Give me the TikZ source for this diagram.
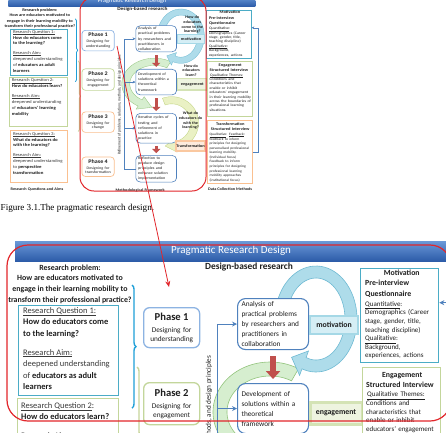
\documentclass[tikz,border=0pt]{standalone}
\usepackage{fontspec}
\setmainfont{Carlito}
\newfontfamily\capfont{Liberation Serif}
\usetikzlibrary{calc,arrows.meta,decorations.pathreplacing}

\definecolor{txt}{HTML}{1E1E1E}
\definecolor{txtg}{HTML}{3A3A3A}
\definecolor{hdrTop}{HTML}{6A98D8}
\definecolor{hdrBot}{HTML}{2C5BA8}
\definecolor{cRQa}{HTML}{4BACC6}
\definecolor{cRQb}{HTML}{C3D69B}
\definecolor{cRQc}{HTML}{FAC090}
\definecolor{cPha}{HTML}{8DB3E2}
\definecolor{cBox}{HTML}{4F81BD}
\definecolor{cRed}{HTML}{C0504D}
\definecolor{arcB}{HTML}{AEDCEA}
\definecolor{arcBd}{HTML}{6FBAD3}
\definecolor{arcG}{HTML}{D6EECF}
\definecolor{arcGd}{HTML}{93C47D}
\definecolor{arcY}{HTML}{EAF1C4}
\definecolor{arcYd}{HTML}{BFD27E}
\definecolor{labM}{HTML}{D5EEF5}
\definecolor{labMd}{HTML}{A5D8E6}
\definecolor{labE}{HTML}{EEF4E0}
\definecolor{labEd}{HTML}{D4E3B5}
\definecolor{labT}{HTML}{FDEBDD}
\definecolor{labTd}{HTML}{FAC8A0}
\definecolor{annRed}{HTML}{E2262B}
\definecolor{braceB}{HTML}{1E9FD8}
\definecolor{braceG}{HTML}{C7D59A}

\newcommand\fsz[2]{\fontsize{#1}{#2}\selectfont}
\newif\ifthumbq

\tikzset{
  every node/.style={text=txt},
  rqbox/.style={draw=#1, line width=1.3pt, fill=white, anchor=north west, inner sep=0pt, minimum width=100pt},
  rqtxt/.style={anchor=north west, align=left, inner sep=0pt, font=\fsz{8.5}{11.5}},
  phase/.style={draw=#1, line width=1.3pt, rounded corners=6pt, fill=white, minimum width=56pt,
                text width=54pt, anchor=north west, align=center, inner sep=0pt, font=\fsz{7.3}{8.8}},
  fbox/.style={draw=cBox, line width=1.1pt, rounded corners=8pt, fill=white, minimum width=71pt,
               text width=63pt, anchor=north west, align=left, inner xsep=4pt, inner ysep=0pt, font=\fsz{7.3}{10}},
  labm/.style={draw=labMd, fill=labM, line width=1.5pt, minimum width=48pt, minimum height=18pt, inner sep=0pt, font=\fsz{7.8}{9}\bfseries},
  labe/.style={draw=labEd, fill=labE, line width=3pt, minimum width=52pt, minimum height=22pt, inner sep=0pt, font=\fsz{7.8}{9}\bfseries},
  labt/.style={draw=labTd, fill=labT, line width=3pt, minimum width=50pt, minimum height=20pt, inner sep=0pt, font=\fsz{7.8}{9}\bfseries},
  dbox/.style={draw=#1, line width=1.3pt, fill=white, anchor=north west, inner sep=0pt, minimum width=78pt},
  dtxt/.style={anchor=north west, align=left, inner sep=0pt, text width=73pt, font=\fsz{7}{8.6}},
  sect/.style={font=\fsz{7.5}{9}\bfseries, inner sep=0pt},
  qtxt/.style={font=\fsz{7.5}{9}\bfseries, align=center, inner sep=0pt},
  bracestyle/.style={draw=#1, line width=1.4pt, decorate, decoration={brace, amplitude=4pt}},
  fb/.style={draw=cBox, line width=0.9pt},
  fbarrow/.style={fb, -{Stealth[length=5pt,width=5pt]}},
  redarr/.style={draw=cRed, line width=5.5pt, -{Triangle[width=14pt,length=8pt]}},
}

% circular band arrow: cx, cy, rx, ry, half band, start, band end, tip angle, style
\newcommand\circarr[9]{%
  \pgfmathsetmacro\cao{#3+#5}\pgfmathsetmacro\cbo{#4+#5}%
  \pgfmathsetmacro\cai{#3-#5}\pgfmathsetmacro\cbi{#4-#5}%
  \pgfmathsetmacro\cah{#3+#5+7}\pgfmathsetmacro\cbh{#4+#5+7}%
  \pgfmathsetmacro\caj{#3-#5-7}\pgfmathsetmacro\cbj{#4-#5-7}%
  \pgfmathsetmacro\cat{#3+3}\pgfmathsetmacro\cbt{#4+3}%
  \filldraw[#9] plot[variable=\t, domain=#6:#7, samples=60] ({#1+\cao*cos(\t)},{#2+\cbo*sin(\t)})
    -- ({#1+\cah*cos(#7)},{#2+\cbh*sin(#7)})
    -- ({#1+\cat*cos(#8)},{#2+\cbt*sin(#8)})
    -- ({#1+\caj*cos(#7)},{#2+\cbj*sin(#7)})
    -- plot[variable=\t, domain=#7:#6, samples=60] ({#1+\cai*cos(\t)},{#2+\cbi*sin(\t)})
    -- cycle;}

\newcommand\phtxt[2]{{\fsz{10.6}{12}\bfseries Phase #1}\\[3pt]Designing for\\#2}

\newcommand\drawdiagram{%
  % circular arrows
  \circarr{300}{488}{40}{44}{7}{250}{440}{105}{fill=arcY, draw=arcYd, line width=0.6pt}
  \circarr{270}{412}{50}{43}{7}{300}{120}{95}{fill=arcG, draw=arcGd, line width=0.6pt}
  \circarr{316}{319}{35}{47}{6}{185}{470}{130}{fill=arcB, draw=arcBd, line width=0.6pt}
  % header
  \node[anchor=north west, minimum width=431pt, minimum height=20pt, inner sep=0pt,
        top color=hdrTop, bottom color=hdrBot] (hdr) at (15,241) {};
  \node[text=white, font=\fsz{11}{13}] (title) at (231,251) {Pragmatic Research Design};
  % left column
  \node[font=\fsz{7.9}{10.7}\bfseries, align=center, inner sep=0pt] (rp) at (70,284)
    {Research problem:\\How are educators motivated to\\engage in their learning mobility to\\transform their professional practice?};
  \node[rqbox=cRQa, minimum height=90pt] (rq1) at (18,305) {};
  \node[rqtxt] (rq1t) at (23,307) {\textcolor{txtg}{\underline{Research Question 1:}}\\
    \textbf{How do educators come}\\\textbf{to the learning?}\\[7.5pt]
    \textcolor{txtg}{\underline{Research Aim:}}\\\textcolor{txtg}{deepened understanding}\\
    \textcolor{txtg}{of} \textbf{educators as adult}\\\textbf{learners}};
  \node[rqbox=cRQb, minimum width=101pt, minimum height=97pt] (rq2) at (17,398) {};
  \node[rqtxt] (rq2t) at (21,402) {\textcolor{txtg}{\underline{Research Question 2}}:\\
    \textbf{How do educators learn?}\\[7.5pt]
    \textcolor{txtg}{\underline{Research Aim:}}\\\textcolor{txtg}{deepened understanding}\\
    \textcolor{txtg}{of} \textbf{educators' learning}\\\textbf{mobility}};
  \node[rqbox=cRQc, minimum height=101pt] (rq3) at (18,502) {};
  \node[rqtxt] (rq3t) at (23,506) {\textcolor{txtg}{\underline{Research Question 3:}}\\
    \textbf{What do educators do}\\\textbf{with the learning?}\\[7.5pt]
    \textcolor{txtg}{\underline{Research Aim:}}\\\textcolor{txtg}{deepened understanding}\\
    \textcolor{txtg}{to} \textbf{perspective}\\\textbf{transformation}};
  \node[sect] (lrq) at (65,617) {Research Questions and Aims};
  \coordinate (bra1) at (132,285); \coordinate (bra2) at (132,408);
  \coordinate (brb1) at (137,367); \coordinate (brb2) at (137,505);
  \draw[bracestyle=braceB] (bra1) -- (bra2);
  \draw[bracestyle=braceG] (brb1) -- (brb2);
  % middle column
  \node[font=\fsz{9.4}{11}\bfseries] (dbr) at (249,267) {Design-based research};
  \node[phase=cPha, minimum height=40pt] (ph1) at (143,307) {\phtxt{1}{understanding}};
  \node[phase=cRQb, minimum height=42pt] (ph2) at (143,382) {\phtxt{2}{engagement}};
  \node[phase=cRQc, minimum height=40pt] (ph3) at (143,466) {\phtxt{3}{change}};
  \node[phase=cRQc, minimum height=38pt] (ph4) at (143,554) {\phtxt{4}{transformation}};
  \node[rotate=90, font=\fsz{7.2}{9}, inner sep=0pt] (refine) at (209,453)
    {Refinement of problems, solutions, methods, and design principles};
  \node[fbox, minimum height=51pt] (A) at (237,298) {Analysis of\\practical problems\\by researchers and\\practitioners in\\collaboration};
  \node[fbox, minimum height=50pt] (B) at (237,383) {Development of\\solutions within a\\theoretical\\framework};
  \node[fbox, minimum height=58pt] (C) at (237,469) {Iterative cycles of\\testing and\\refinement of\\solutions in\\practice};
  \node[fbox, minimum height=52pt] (D) at (237,551) {Reflection to\\produce design\\principles and\\enhance solution\\implementation};
  \draw[redarr] ($(A.south)+(0,6)$) -- ($(B.north)+(0,-4)$);
  \draw[redarr] ($(B.south)+(0,6)$) -- ($(C.north)+(0,-4)$);
  \draw[redarr] ($(C.south)+(0,5)$) -- ($(D.north)+(0,-4)$);
  \draw[fbarrow] (D.west) -- ++(-20,0) |- (A.west);
  \draw[fbarrow] ($(D.west)+(-20,0)$) |- (B.west);
  \draw[fbarrow] ($(D.west)+(-20,0)$) |- (C.west);
  \node[labm] (motl) at (334,325) {motivation};
  \node[labe] (engl) at (336,413) {engagement};
  \node[labt] (trl) at (333,533) {Transformation};
  \ifthumbq
    \node[qtxt] (q1) at (336,297) {How do\\educators\\come to the\\learning?};
    \node[qtxt] (q2) at (334,386) {How do\\educators\\learn?};
    \node[qtxt] (q3) at (333,484) {What do\\educators do\\with the\\learning?};
  \fi
  \node[sect] (lmf) at (245,619) {Methodological Framework};
  % right column
  \node[dbox=cRQa, minimum height=94pt] (mot) at (360,268) {};
  \node[dtxt] (mott) at (365,269.5) {\makebox[73pt][c]{\bfseries\fsz{7.8}{8.6}Motivation}\\[1.9pt]
    {\bfseries\fsz{7.8}{8.6}Pre-interview}\\[1.9pt]{\bfseries\fsz{7.8}{8.6}Questionnaire}\\[1.5pt]
    \underline{Quantitative}:\\Demographics (Career\\stage, gender, title,\\teaching discipline)\\
    \underline{Qualitative}:\\Background,\\experiences, actions};
  \node[dbox=cRQb, minimum height=107pt] (eng) at (362,367) {};
  \node[dtxt] (engt) at (366,372) {\makebox[72pt][c]{\bfseries\fsz{7.8}{8.6}Engagement}\\[1.4pt]
    {\bfseries\fsz{7.8}{8.6}Structured Interview}\\[1pt]
    \hspace*{1pt}\underline{Qualitative Themes:}\\Conditions and\\characteristics that\\enable or inhibit\\
    educators' engagement\\in their learning mobility\\across the boundaries of\\professional learning\\situations.};
  \node[dbox=cRQc, minimum height=124pt] (trd) at (362,482) {};
  \node[dtxt, font=\fsz{6.6}{8.9}] (trdt) at (366,487) {\makebox[72pt][c]{\bfseries\fsz{7.8}{8.6}Transformation}\\[1.4pt]
    \makebox[72pt][c]{\bfseries\fsz{7.8}{8.6}Structured Interview}\\[1pt]
    \underline{Qualitative}: \underline{Feedback}:\\feedback to inform\\principles for designing\\
    personalised professional\\learning mobility.\\(Individual focus)\\Feedback to inform\\
    principles for designing\\professional learning\\mobility approaches\\(institutional focus)};
  \node[sect] (ldc) at (402,617) {Data Collection Methods};
  \draw[fbarrow] (trd.east) -- ++(10,0) |- ([yshift=13pt]mot.east);
}

\begin{document}
\begin{tikzpicture}[x=1pt,y=-1pt]
\useasboundingbox (0,0) rectangle (446,432);
\fill[white] (0,0) rectangle (446,432);
% thumbnail of the whole figure
\begin{scope}
  \clip (0,0) rectangle (262,197);
  \begin{scope}[transform canvas={xscale=0.5731,yscale=0.5128}, name prefix=t-]
    \thumbqtrue
    \begin{scope}[shift={(-0.5,-248.5)}]
      \drawdiagram
    \end{scope}
  \end{scope}
\end{scope}
% enlarged view
\begin{scope}
  \clip (0,236) rectangle (446,432);
  \begin{scope}[name prefix=b-]
    \drawdiagram
  \end{scope}
\end{scope}
% caption
\node[anchor=base west, inner sep=0pt, font=\capfont\fsz{9.1}{11}, text=black] (cap) at (0.5,210)
  {Figure 3.1.The pragmatic research design.};
% annotations
\draw[annRed, line width=1pt, rounded corners=14pt] (80,-3) rectangle (206,191);
\draw[annRed, line width=1.2pt, rounded corners=21pt] (7,245) rectangle (451,421);
\coordinate (rs) at (117,46);
\coordinate (re) at (169,287);
\draw[annRed, line width=0.8pt, -{Stealth[length=6pt,width=5pt]}] (rs) -- (re);
\end{tikzpicture}
\end{document}
